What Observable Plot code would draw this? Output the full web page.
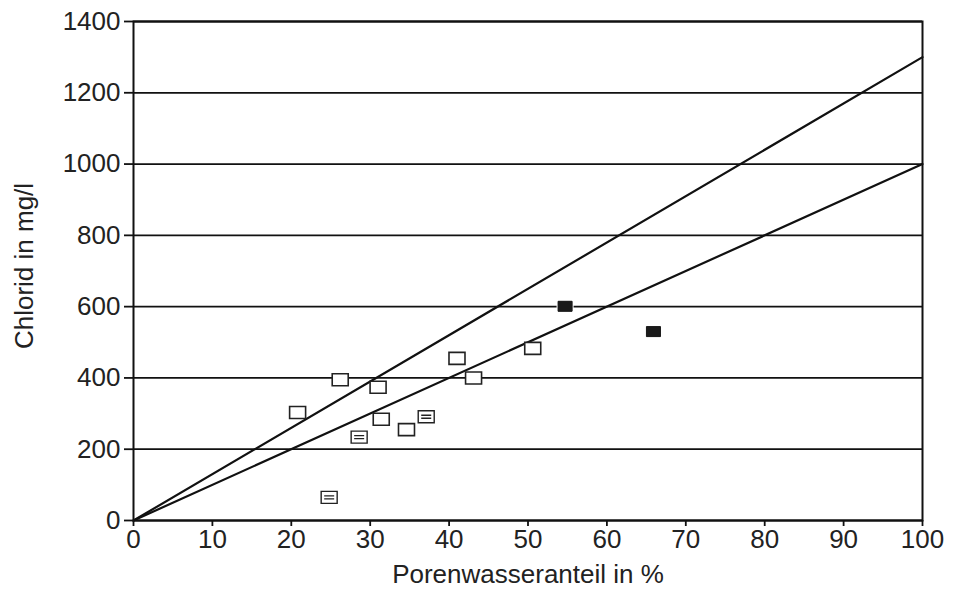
<!DOCTYPE html>
<html>
<head>
<meta charset="utf-8">
<script src="https://cdn.jsdelivr.net/npm/d3@7"></script>
<script src="https://cdn.jsdelivr.net/npm/@observablehq/plot@0.6"></script>
<style>
  html, body { margin: 0; padding: 0; background: #fff; }
  #chart svg { display: block; }
</style>
</head>
<body>
<div id="chart"></div>
<script>
// Open squares (Porenwasseranteil %, Chlorid mg/l)
const openX = [20.8, 26.2, 31.0, 31.4, 34.6, 41.0, 43.1, 50.6];
const openY = [303, 395, 374, 284, 255, 455, 400, 483];
// Open squares with an inner mark
const markedX = [24.8, 28.6, 37.1];
const markedY = [65, 234, 291];
// Filled squares
const filledX = [54.7, 65.9];
const filledY = [601, 530];
// Lines through origin (slope in mg/l per %)
const lineSlopes = [13, 10];
const xTicks = [0, 10, 20, 30, 40, 50, 60, 70, 80, 90, 100];
const yTicks = [0, 200, 400, 600, 800, 1000, 1200, 1400];

const openPts = openX.map((x, i) => ({x, y: openY[i]}));
const markedPts = markedX.map((x, i) => ({x, y: markedY[i]}));
const filledPts = filledX.map((x, i) => ({x, y: filledY[i]}));
const linePts = lineSlopes.flatMap((s, k) => [0, 100].map(x => ({x, y: s * x, k})));

const rectSym = {draw(c) { c.rect(-8, -6, 16, 12); }};
const rectMarkedSym = {draw(c) { c.rect(-8, -6, 16, 12); c.moveTo(-5, -1.5); c.lineTo(5, -1.5); c.moveTo(-5, 1.5); c.lineTo(5, 1.5); }};
const filledSym = {draw(c) { c.rect(-7, -5, 14, 10); }};
const fmt = d => String(d);

const chart = Plot.plot({
  width: 965,
  height: 590,
  marginLeft: 133,
  marginRight: 43,
  marginTop: 21,
  marginBottom: 70,
  style: {fontFamily: "'Liberation Sans', Arial, sans-serif", fontSize: "26px", color: "#222", background: "#fff"},
  x: {domain: [0, 100], ticks: xTicks, tickFormat: fmt, tickSize: 6, tickPadding: 3, label: null},
  y: {domain: [0, 1400], ticks: yTicks, tickFormat: fmt, tickSize: 9, tickPadding: 4, label: null},
  marks: [
    Plot.ruleY(yTicks, {stroke: "#111", strokeWidth: 1.8}),
    Plot.frame({stroke: "#111", strokeWidth: 2}),
    Plot.line(linePts, {x: "x", y: "y", z: "k", stroke: "#111", strokeWidth: 2.2}),
    Plot.dot(openPts, {x: "x", y: "y", symbol: rectSym, fill: "#fff", stroke: "#222", strokeWidth: 1.6}),
    Plot.dot(markedPts, {x: "x", y: "y", symbol: rectMarkedSym, fill: "#fff", stroke: "#222", strokeWidth: 1.4}),
    Plot.dot(filledPts, {x: "x", y: "y", symbol: filledSym, fill: "#1a1a1a", stroke: "#fff", strokeWidth: 3, paintOrder: "stroke"}),
    Plot.dot(filledPts, {x: "x", y: "y", symbol: filledSym, fill: "#1a1a1a", stroke: "#1a1a1a", strokeWidth: 1}),
    Plot.axisX({ticks: xTicks, tickFormat: fmt, tickSize: 6, tickPadding: 3, stroke: "#111", strokeWidth: 1.8, label: null}),
    Plot.axisY({ticks: yTicks, tickFormat: fmt, tickSize: 9, tickPadding: 4, stroke: "#111", strokeWidth: 1.8, label: null}),
    Plot.text(["Porenwasseranteil in %"], {frameAnchor: "bottom", dy: 62, fontSize: 26, fill: "#222"}),
    Plot.text(["Chlorid in mg/l"], {frameAnchor: "left", dx: -109, dy: -5, rotate: -90, textAnchor: "middle", fontSize: 26, fill: "#222"})
  ]
});
document.getElementById("chart").appendChild(chart);
</script>
</body>
</html>
